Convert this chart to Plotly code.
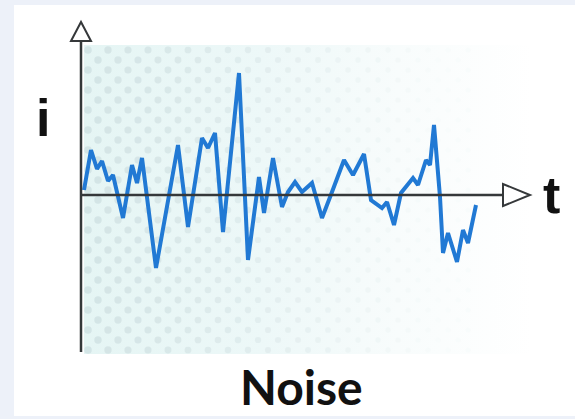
import numpy as np
import plotly.graph_objects as go

# ---- data (t: time samples, i: noise current amplitude) ----
t_vals = [3, 10, 16, 21, 27, 32, 42, 51, 56, 61, 75, 97, 107, 121, 127, 134, 142, 158,
          167, 178, 183, 192, 201, 207, 214, 221, 231, 241, 251, 263, 272, 283, 290, 296,
          301, 306, 313, 320, 332, 337, 345, 349, 353, 359, 362, 367, 376, 382, 387, 395]
i_vals = [5, 45, 26, 34, 14, 20, -23, 30, 12, 37, -73, 50, -32, 57, 47, 62, -37, 122,
          -65, 18, -18, 37, -12, 3, 13, 3, 12, -23, 3, 35, 20, 41, -5, -10, -13, -7,
          -30, 2, 17, 10, 35, 30, 70, -2, -58, -38, -67, -35, -48, -10]

AXIS_X0 = 81   # pixel column of the i axis
AXIS_Y0 = 195  # pixel row of the t axis
W, H = 575, 419

fig = go.Figure()

# white panel behind
fig.add_shape(type="rect", x0=14 - AXIS_X0, x1=W + 5 - AXIS_X0, y0=AXIS_Y0 - 5, y1=AXIS_Y0 - 416,
              fillcolor="white", line=dict(width=0), layer="below")

# halftone backdrop with gradient
gx0, gx1, gy0, gy1 = 84 - AXIS_X0, 532 - AXIS_X0, AXIS_Y0 - 45, AXIS_Y0 - 354
fig.add_trace(go.Scatter(
    x=[gx0, gx1, gx1, gx0, gx0], y=[gy0, gy0, gy1, gy1, gy0],
    mode="lines", line=dict(width=0), fill="toself",
    fillgradient=dict(type="horizontal",
                      colorscale=[[0, "#e5f5f4"], [0.4, "#edf8f8"], [0.7, "#f8fcfc"], [1, "#ffffff"]]),
    hoverinfo="skip", showlegend=False))

# halftone dots (decoration)
dx, dy = [], []
cols, sizes = [], []
row = 0
for py in np.arange(50, 352, 10):
    start = 88 + (row % 2) * 10
    for px in np.arange(start, 470, 20):
        f = min(1.0, (px - 84) / (430 - 84))
        c0 = np.array([204, 222, 224])
        c1 = np.array([246, 251, 251])
        c = c0 + (c1 - c0) * f ** 1.3
        dx.append(px - AXIS_X0)
        dy.append(AXIS_Y0 - py)
        cols.append("rgb(%d,%d,%d)" % tuple(c.astype(int)))
        sizes.append(7.5 - 2.5 * f)
    row += 1
fig.add_trace(go.Scatter(x=dx, y=dy, mode="markers",
                         marker=dict(size=sizes, color=cols, line=dict(width=0)),
                         hoverinfo="skip", showlegend=False))

# noise signal
fig.add_trace(go.Scatter(x=t_vals, y=i_vals, mode="lines",
                         line=dict(color="#2179d4", width=4),
                         showlegend=False))

axis_col = "#35383a"
# i axis
fig.add_shape(type="line", x0=0, x1=0, y0=AXIS_Y0 - 352, y1=AXIS_Y0 - 41,
              line=dict(color=axis_col, width=2.5))
fig.add_shape(type="path", path="M -10,%d L 0,%d L 10,%d Z" % (AXIS_Y0 - 41, AXIS_Y0 - 22, AXIS_Y0 - 41),
              line=dict(color=axis_col, width=2), fillcolor="white")
# t axis
fig.add_shape(type="line", x0=0, x1=503 - AXIS_X0, y0=0, y1=0,
              line=dict(color=axis_col, width=2.5))
fig.add_shape(type="path", path="M %d,-11 L %d,0 L %d,11 Z" % (503 - AXIS_X0, 530 - AXIS_X0, 503 - AXIS_X0),
              line=dict(color=axis_col, width=2), fillcolor="white")

font_fam = "Liberation Sans, Arial, sans-serif"
fig.add_annotation(x=43 - AXIS_X0, y=AXIS_Y0 - 118, text="i", showarrow=False,
                   xanchor="center", yanchor="middle",
                   font=dict(family=font_fam, size=52, color="#111111", weight="bold"))
fig.add_annotation(x=551 - AXIS_X0, y=AXIS_Y0 - 195, text="t", showarrow=False,
                   xanchor="center", yanchor="middle",
                   font=dict(family=font_fam, size=52, color="#111111", weight="bold"))
fig.add_annotation(x=301 - AXIS_X0, y=AXIS_Y0 - 386, text="Noise", showarrow=False,
                   xanchor="center", yanchor="middle",
                   font=dict(family="Lato, sans-serif",
                             size=48, color="#111111", weight="bold"))

fig.update_layout(
    width=W, height=H, margin=dict(l=0, r=0, t=0, b=0),
    paper_bgcolor="#edf1f9", plot_bgcolor="rgba(0,0,0,0)",
    xaxis=dict(range=[-AXIS_X0, W - AXIS_X0], visible=False, fixedrange=True),
    yaxis=dict(range=[AXIS_Y0 - H, AXIS_Y0], visible=False, fixedrange=True),
    showlegend=False,
)

fig.write_html("out.html", config={"displayModeBar": False},
               post_script="document.body.style.margin='0';document.body.style.background='#edf1f9';")
